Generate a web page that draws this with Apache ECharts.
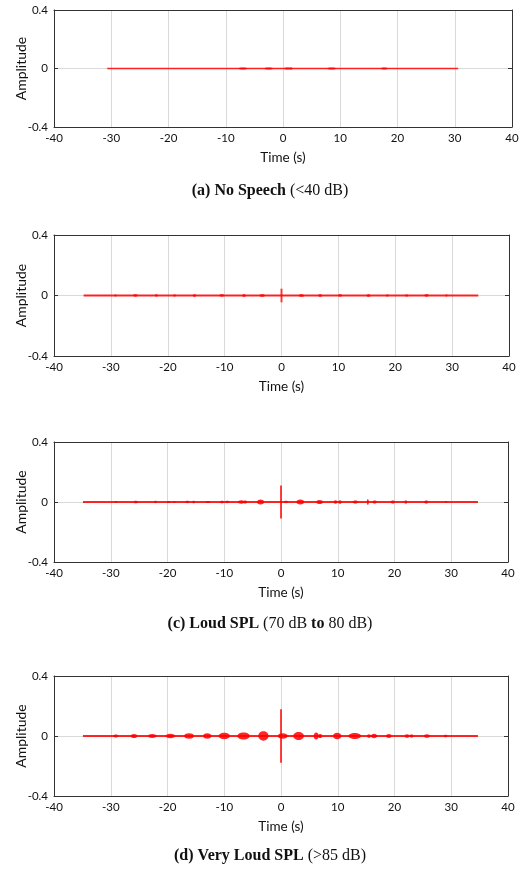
<!DOCTYPE html>
<html>
<head>
<meta charset="utf-8">
<script src="https://cdn.jsdelivr.net/npm/echarts@6/dist/echarts.min.js"></script>
<style>
html, body { margin: 0; padding: 0; background: #fff; }
#chart { width: 522px; height: 873px; }
</style>
</head>
<body>
<div id="chart"></div>
<script>
// waveform envelopes
var xTicks = [-40, -30, -20, -10, 0, 10, 20, 30, 40];
var yTicks = [-0.4, 0, 0.4];

// signal extent (s) per panel
var spanA = [-30.7, 30.6];
var spanB = [-34.8, 34.6];
var spanC = [-34.9, 34.7];
var spanD = [-34.9, 34.7];

// baseline half-amplitude
var baseAmp = [0.003, 0.004, 0.004, 0.004];

// bursts: centre time, half amplitude, width (s)
var timesA = [-7, -2.5, 0.8, 1.4, 8.5, 17.7];
var ampsA = [0.003, 0.003, 0.004, 0.004, 0.003, 0.003];
var widthsA = [1.5, 1.5, 1.2, 0.6, 1.5, 1.2];

var timesB = [-29.2, -25.7, -22.0, -18.8, -15.3, -10.5, -6.6, -3.4, 3.5, 6.8, 10.3, 15.3, 18.6, 22.0, 25.5, 29.0];
var ampsB = [0.006, 0.008, 0.008, 0.006, 0.009, 0.008, 0.009, 0.009, 0.009, 0.009, 0.008, 0.009, 0.006, 0.007, 0.008, 0.005];
var widthsB = [0.4, 0.8, 0.5, 0.5, 0.6, 0.9, 0.7, 1.0, 1.0, 0.7, 0.7, 0.7, 0.5, 0.6, 0.8, 0.4];
var spikeB = 0.045;

var timesC = [-29.1, -25.6, -22.1, -19.8, -18.8, -16.5, -15.4, -12.9, -10.4, -9.5, -7.0, -6.3, -3.6, 0.9, 3.4, 6.8, 9.6, 10.4, 13.1, 15.3, 16.5, 19.7, 22.0, 25.6, 29.1];
var ampsC = [0.006, 0.009, 0.008, 0.006, 0.007, 0.008, 0.009, 0.007, 0.009, 0.008, 0.011, 0.010, 0.016, 0.008, 0.017, 0.014, 0.011, 0.012, 0.010, 0.020, 0.010, 0.010, 0.011, 0.010, 0.006];
var widthsC = [0.4, 0.8, 0.5, 0.6, 0.4, 0.7, 0.5, 0.8, 0.7, 0.7, 1.2, 0.7, 1.3, 0.7, 1.4, 1.2, 0.7, 0.6, 1.0, 0.3, 0.8, 0.8, 0.5, 0.8, 0.4];
var spikeC = 0.11;

var timesD = [-29.1, -25.9, -22.7, -19.5, -16.2, -13.0, -10.0, -6.6, -3.1, 0.3, 3.1, 6.2, 6.9, 9.9, 13.0, 15.5, 16.4, 19.0, 22.2, 23.0, 25.7, 29.0];
var ampsD = [0.010, 0.014, 0.013, 0.015, 0.018, 0.018, 0.021, 0.024, 0.031, 0.018, 0.027, 0.024, 0.014, 0.022, 0.020, 0.012, 0.015, 0.013, 0.012, 0.010, 0.012, 0.009];
var widthsD = [0.9, 1.2, 1.5, 1.7, 1.8, 1.5, 2.0, 2.2, 1.8, 1.8, 1.9, 0.9, 0.8, 1.5, 2.2, 0.7, 1.1, 1.0, 0.9, 0.8, 1.1, 0.7];
var spikeD = 0.178;

var captions = [
    ['(a) No Speech', ' (<40 dB)'],
    null,
    ['(c) Loud SPL', ' (70 dB ', 'to', ' 80 dB)'],
    ['(d) Very Loud SPL', ' (>85 dB)']
];

var grids = [
    { left: 54, top: 10, width: 458, height: 117, outerBoundsMode: 'none' },
    { left: 54, top: 235, width: 455, height: 121, outerBoundsMode: 'none' },
    { left: 54, top: 442, width: 454, height: 120, outerBoundsMode: 'none' },
    { left: 54, top: 676, width: 454, height: 120, outerBoundsMode: 'none' }
];

var RED = 'rgba(255,0,0,0.85)';
var font = 'Lato, "Open Sans", sans-serif';

function burstData(times, amps, widths) {
    return times.map(function (t, i) {
        return [t, amps[i], widths[i]];
    });
}

var panels = [
    { span: spanA, bursts: burstData(timesA, ampsA, widthsA), spike: 0 },
    { span: spanB, bursts: burstData(timesB, ampsB, widthsB), spike: spikeB },
    { span: spanC, bursts: burstData(timesC, ampsC, widthsC), spike: spikeC },
    { span: spanD, bursts: burstData(timesD, ampsD, widthsD), spike: spikeD }
];

function renderBurst(params, api) {
    var t = api.value(0), a = api.value(1), w = api.value(2);
    var c = api.coord([t, 0]);
    var top = api.coord([t, a]);
    var right = api.coord([t + w / 2, 0]);
    return {
        type: 'ellipse',
        shape: { cx: c[0], cy: c[1], rx: Math.max(1, right[0] - c[0]), ry: Math.max(1, c[1] - top[1]) },
        style: { fill: RED }
    };
}

function renderSpike(params, api) {
    var t = api.value(0), a = api.value(1);
    var p1 = api.coord([t, a]);
    var p2 = api.coord([t, -a]);
    return {
        type: 'rect',
        shape: { x: p1[0] - 1, y: p1[1], width: 2, height: p2[1] - p1[1] },
        style: { fill: 'rgba(255,0,0,0.75)' }
    };
}

var xAxes = [], yAxes = [], series = [], graphics = [];

panels.forEach(function (p, i) {
    xAxes.push({
        gridIndex: i,
        type: 'value',
        min: -40, max: 40, interval: 10,
        name: 'Time (s)',
        nameLocation: 'middle',
        nameGap: 24,
        nameTextStyle: { fontFamily: font, fontSize: 13.5, color: '#111' },
        axisLine: { show: true, onZero: false, lineStyle: { color: '#333' } },
        axisTick: { show: false },
        axisLabel: { fontFamily: font, fontSize: 11.5, color: '#111', margin: 5 },
        splitLine: { show: true, lineStyle: { color: '#d9d9d9', width: 1 } }
    });
    yAxes.push({
        gridIndex: i,
        type: 'value',
        min: -0.4, max: 0.4, interval: 0.4,
        name: 'Amplitude',
        nameLocation: 'middle',
        nameGap: 26,
        nameMoveOverlap: false,
        nameRotate: 90,
        nameTextStyle: { fontFamily: font, fontSize: 14, color: '#111' },
        axisLine: { show: true, onZero: false, lineStyle: { color: '#333' } },
        axisTick: { show: true, inside: true, length: 4, lineStyle: { color: '#333' } },
        axisLabel: { fontFamily: font, fontSize: 11.5, color: '#111', margin: 6 },
        splitLine: { show: true, lineStyle: { color: '#d9d9d9', width: 1 } }
    });
    // right-hand frame with tick at 0
    yAxes.push({
        gridIndex: i,
        type: 'value',
        position: 'right',
        min: -0.4, max: 0.4, interval: 0.4,
        axisLine: { show: true, onZero: false, lineStyle: { color: '#333' } },
        axisTick: { show: true, inside: true, length: 4, lineStyle: { color: '#333' } },
        axisLabel: { show: false },
        splitLine: { show: false }
    });
    // top frame
    xAxes.push({
        gridIndex: i,
        type: 'value',
        position: 'top',
        min: -40, max: 40,
        axisLine: { show: true, onZero: false, lineStyle: { color: '#333' } },
        axisTick: { show: false },
        axisLabel: { show: false },
        splitLine: { show: false }
    });

    var xi = i * 2, yi = i * 2;
    series.push({
        type: 'line',
        xAxisIndex: xi, yAxisIndex: yi,
        data: [[p.span[0], 0], [p.span[1], 0]],
        symbol: 'none',
        silent: true,
        lineStyle: { color: RED, width: baseAmp[i] * 2 / 0.8 * grids[i].height + 0.6 }
    });
    series.push({
        type: 'custom',
        xAxisIndex: xi, yAxisIndex: yi,
        renderItem: renderBurst,
        data: p.bursts,
        silent: true
    });
    if (p.spike) {
        series.push({
            type: 'custom',
            xAxisIndex: xi, yAxisIndex: yi,
            renderItem: renderSpike,
            data: [[0, p.spike]],
            silent: true
        });
    }
});

var captionY = [191, null, 624, 856];
captions.forEach(function (c, i) {
    if (!c) return;
    var txt = '{b|' + c[0] + '}{n|' + c[1] + '}';
    if (c.length > 2) txt += '{b|' + c[2] + '}{n|' + c[3] + '}';
    graphics.push({
        type: 'text',
        x: 270,
        y: captionY[i],
        style: {
            text: txt,
            align: 'center',
            verticalAlign: 'middle',
            rich: {
                b: { fontFamily: '"Liberation Serif", serif', fontWeight: 'bold', fontSize: 16, fill: '#111' },
                n: { fontFamily: '"Liberation Serif", serif', fontSize: 16, fill: '#111' }
            }
        }
    });
});

var chart = echarts.init(document.getElementById('chart'), null, { renderer: 'canvas' });
chart.setOption({
    animation: false,
    backgroundColor: '#fff',
    grid: grids,
    xAxis: xAxes,
    yAxis: yAxes,
    series: series,
    graphic: graphics
});
</script>
</body>
</html>
